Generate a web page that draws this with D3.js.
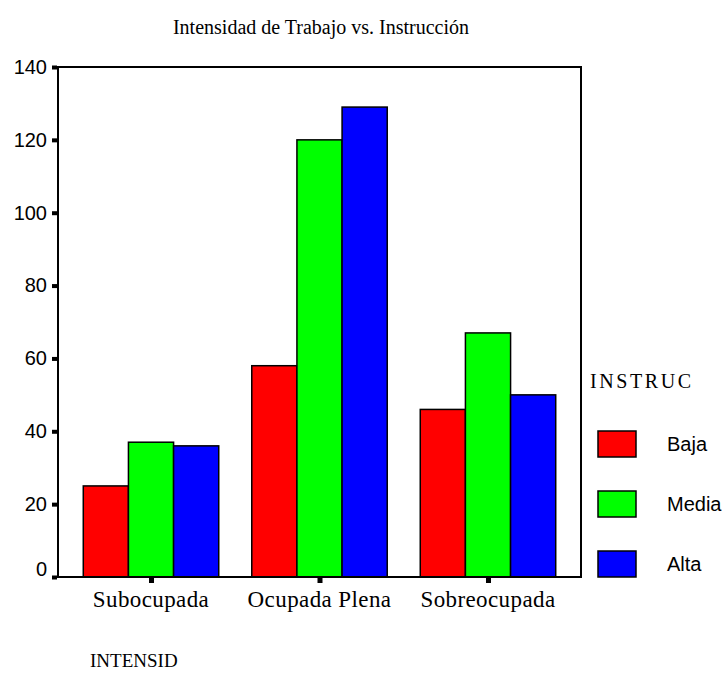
<!DOCTYPE html>
<html>
<head>
<meta charset="utf-8">
<script src="https://cdn.jsdelivr.net/npm/d3@7"></script>
<style>
  body { margin: 0; background: #fff; }
  svg { display: block; }
</style>
</head>
<body>
<svg id="chart" width="724" height="677"></svg>
<script>
// ---------------------------//
//      DATA                  //
// ---------------------------//
const categories = ["Subocupada", "Ocupada Plena", "Sobreocupada"];
const seriesNames = ["Baja", "Media", "Alta"];
const baja  = [25, 58, 46];
const media = [37, 120, 67];
const alta  = [36, 129, 50];
const yTicks = [0, 20, 40, 60, 80, 100, 120, 140];
const colors = ["#ff0000", "#00ff00", "#0000ff"];

const seriesValues = [baja, media, alta];

// ---------------------------//
//      LAYOUT                //
// ---------------------------//
const plotLeft = 58, plotRight = 581, plotTop = 67, plotBottom = 577;
const svg = d3.select("#chart");

const x = d3.scaleBand()
  .domain(categories)
  .range([plotLeft, plotRight])
  .paddingInner(0.196)
  .paddingOuter(0.15);

const xSub = d3.scaleBand()
  .domain(seriesNames)
  .range([0, x.bandwidth()]);

const y = d3.scaleLinear()
  .domain([0, 140])
  .range([plotBottom, plotTop]);

const serif = "'Liberation Serif', 'Times New Roman', serif";
const sans = "'Liberation Sans', Arial, sans-serif";

// title
svg.append("text")
  .attr("x", 321).attr("y", 34)
  .attr("text-anchor", "middle")
  .style("font-family", serif).style("font-size", "20px")
  .text("Intensidad de Trabajo vs. Instrucción");

// bars
const rows = [];
categories.forEach(function(c, i) {
  seriesNames.forEach(function(s, j) {
    rows.push({ cat: c, series: s, value: seriesValues[j][i], color: colors[j] });
  });
});

svg.append("g").selectAll("rect")
  .data(rows)
  .enter()
  .append("rect")
  .attr("x", function(d) { return x(d.cat) + xSub(d.series); })
  .attr("y", function(d) { return y(d.value); })
  .attr("width", xSub.bandwidth())
  .attr("height", function(d) { return y(0) - y(d.value); })
  .attr("fill", function(d) { return d.color; })
  .attr("stroke", "#000")
  .attr("stroke-width", 1.5);

// frame
svg.append("rect")
  .attr("x", plotLeft).attr("y", plotTop)
  .attr("width", plotRight - plotLeft).attr("height", plotBottom - plotTop)
  .attr("fill", "none")
  .attr("stroke", "#000")
  .attr("stroke-width", 2);

// y axis
const yAxis = d3.axisLeft(y).tickValues(yTicks).tickSize(0).tickPadding(11);
const gy = svg.append("g").attr("transform", "translate(" + plotLeft + ",0)").call(yAxis);
gy.select(".domain").remove();
gy.selectAll("text")
  .style("font-family", sans).style("font-size", "20px").attr("fill", "#000");
// the zero label sits a little above its tick, clear of the x axis
gy.selectAll(".tick").filter(function(d) { return d === 0; }).select("text")
  .attr("y", -8);
gy.selectAll(".tick").append("rect")
  .attr("x", -6).attr("y", -2).attr("width", 5).attr("height", 4)
  .attr("fill", "#000");

// x axis
const xAxis = d3.axisBottom(x).tickSize(0).tickPadding(14);
const gx = svg.append("g").attr("transform", "translate(0," + plotBottom + ")").call(xAxis);
gx.select(".domain").remove();
gx.selectAll("text")
  .style("font-family", serif).style("font-size", "23px")
  .style("letter-spacing", "0.4px").attr("fill", "#000");
gx.selectAll(".tick").append("rect")
  .attr("x", -2).attr("y", 1).attr("width", 5).attr("height", 5)
  .attr("fill", "#000");

// x axis title
svg.append("text")
  .attr("x", 90).attr("y", 667)
  .style("font-family", serif).style("font-size", "19px")
  .text("INTENSID");

// legend
svg.append("text")
  .attr("x", 590).attr("y", 388)
  .style("font-family", serif).style("font-size", "20px")
  .style("letter-spacing", "2.6px")
  .text("INSTRUC");

const legend = svg.append("g").selectAll("g")
  .data(seriesNames)
  .enter()
  .append("g")
  .attr("transform", function(d, i) { return "translate(598," + (431 + i * 60) + ")"; });

legend.append("rect")
  .attr("width", 38).attr("height", 26)
  .attr("fill", function(d, i) { return colors[i]; })
  .attr("stroke", "#000")
  .attr("stroke-width", 1.5);

legend.append("text")
  .attr("x", 69).attr("y", 13).attr("dy", "0.35em")
  .style("font-family", sans).style("font-size", "20px")
  .text(function(d) { return d; });
</script>
</body>
</html>
